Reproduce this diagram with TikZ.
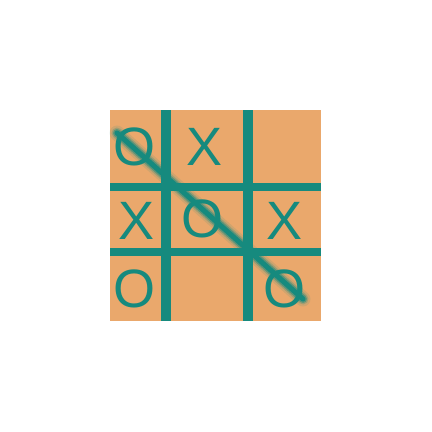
\documentclass[tikz,border=0pt]{standalone}
\usepackage{fontspec}
\setmainfont{Liberation Sans}
\usepackage{xcolor}
\definecolor{boardbg}{HTML}{EAA86C}
\definecolor{gridteal}{HTML}{168A7E}
\tikzset{
  board/.style = {fill=boardbg, draw=none},
  gridline/.style = {fill=gridteal, draw=none},
  cellmark/.style = {text=gridteal, inner sep=0pt, anchor=center,
                     font=\fontsize{54}{54}\selectfont},
  winline/.style = {draw=gridteal, line cap=round}
}
\begin{document}
\begin{tikzpicture}[x=1pt, y=-1pt]
\useasboundingbox (0,0) rectangle (432,432);
% Board
\fill[board] (110,110) rectangle (321,321);
% Grid lines
\foreach \x in {160.5,243} {
  \fill[gridline] (\x,110) rectangle (\x+10,321);
}
\foreach \y in {183,248} {
  \fill[gridline] (110,\y) rectangle (321,\y+8);
}
% Marks
\node[cellmark] (m11) at (135,147) {O};
\node[cellmark] (m12) at (205,147) {X};
\node[cellmark] (m21) at (137,221) {X};
\node[cellmark] (m22) at (203,219) {O};
\node[cellmark] (m23) at (285,221) {X};
\node[cellmark] (m31) at (135,289) {O};
\node[cellmark] (m33) at (285,289) {O};
% Winning stroke (soft edge)
\coordinate (wa) at (117,133);
\coordinate (wb) at (303,299);
\foreach \w/\o in {15/0.12, 11/0.25, 8/0.5, 5/1} {
  \draw[winline, line width=\w pt, opacity=\o] (wa) -- (wb);
}
\end{tikzpicture}
\end{document}
